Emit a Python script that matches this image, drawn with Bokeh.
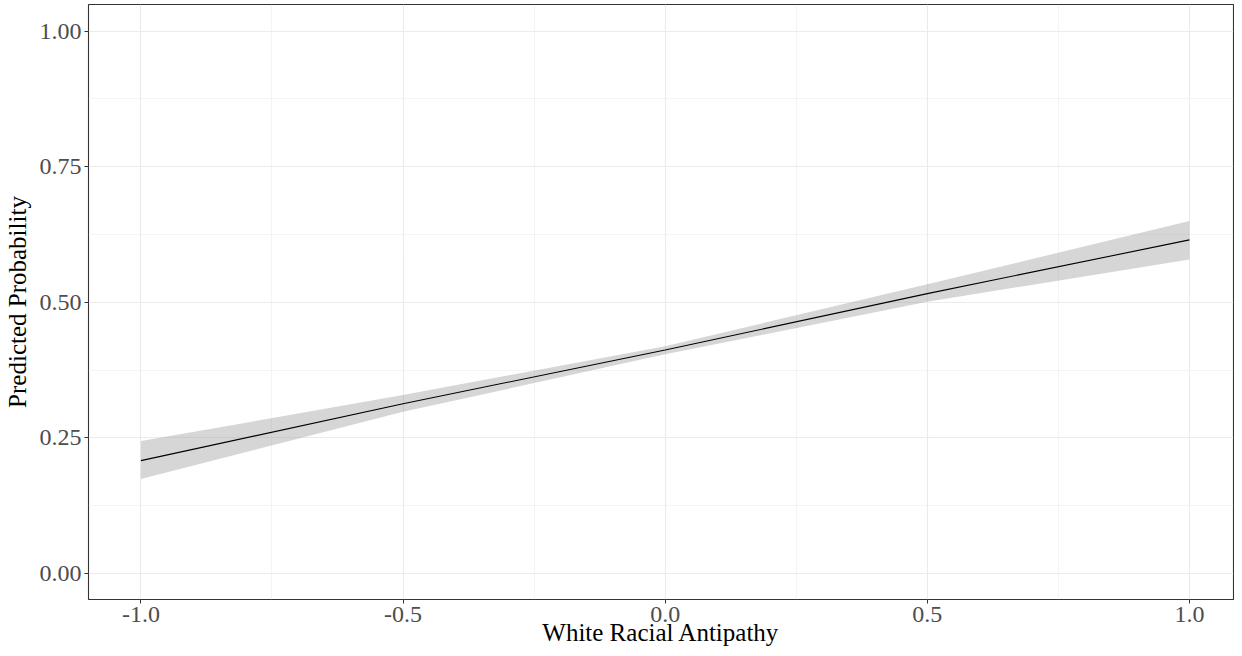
from bokeh.plotting import figure
from bokeh.models import FixedTicker, Range1d, ColumnDataSource
from bokeh.embed import file_html
from bokeh.resources import INLINE

# data
antipathy = [-1.0, -0.5, 0.0, 0.5, 1.0]
predicted = [0.208, 0.313, 0.412, 0.516, 0.615]
lower_ci = [0.174, 0.298, 0.404, 0.501, 0.579]
upper_ci = [0.244, 0.329, 0.419, 0.533, 0.650]
x_ticks = [-1.0, -0.5, 0.0, 0.5, 1.0]
x_minor = [-0.75, -0.25, 0.25, 0.75]
y_ticks = [0.0, 0.25, 0.5, 0.75, 1.0]
y_minor = [0.125, 0.375, 0.625, 0.875]

src = ColumnDataSource(dict(x=antipathy, y=predicted, lo=lower_ci, hi=upper_ci))

FONT = "Liberation Serif"

p = figure(width=1234, height=648, output_backend="svg", toolbar_location=None,
           x_range=Range1d(-1.1, 1.084), y_range=Range1d(-0.048, 1.049),
           min_border_left=81, min_border_right=1, min_border_top=4, min_border_bottom=49)

p.varea(x="x", y1="lo", y2="hi", source=src, fill_color="#999999", fill_alpha=0.4)
p.line(x="x", y="y", source=src, line_color="black", line_width=1.1)

p.xaxis.ticker = FixedTicker(ticks=x_ticks, minor_ticks=x_minor)
p.yaxis.ticker = FixedTicker(ticks=y_ticks, minor_ticks=y_minor)
p.xaxis.major_label_overrides = {-1.0: "-1.0", -0.5: "-0.5", 0.0: "0.0", 0.5: "0.5", 1.0: "1.0"}
p.yaxis.major_label_overrides = {0.0: "0.00", 0.25: "0.25", 0.5: "0.50", 0.75: "0.75", 1.0: "1.00"}

p.xaxis.axis_label = "White Racial Antipathy"
p.yaxis.axis_label = "Predicted Probability"

for ax in (p.xaxis, p.yaxis):
    ax.axis_line_color = None
    ax.major_tick_line_color = "#333333"
    ax.major_tick_in = 0
    ax.major_tick_out = 4
    ax.minor_tick_line_color = None
    ax.major_label_text_font = FONT
    ax.major_label_text_font_size = "24px"
    ax.major_label_text_color = "#4d4d4d"
    ax.axis_label_text_font = FONT
    ax.axis_label_text_font_size = "25px"
    ax.axis_label_text_font_style = "normal"
    ax.axis_label_text_color = "black"

p.xaxis.major_label_standoff = 3
p.xaxis.axis_label_standoff = -6
p.yaxis.major_label_standoff = 3
p.yaxis.axis_label_standoff = 6

for g in (p.xgrid, p.ygrid):
    g.grid_line_color = "#ebebeb"
    g.grid_line_width = 1.1
    g.minor_grid_line_color = "#ebebeb"
    g.minor_grid_line_width = 0.55

p.outline_line_color = "#333333"
p.outline_line_width = 1.1
p.background_fill_color = "white"
p.border_fill_color = "white"

open("out.html", "w").write(file_html(p, INLINE))
